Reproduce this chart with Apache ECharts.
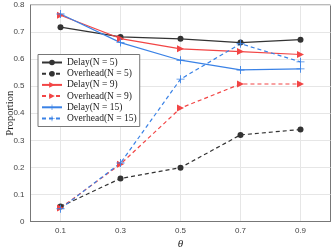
<!DOCTYPE html>
<html><head><meta charset="utf-8">
<script src="https://cdn.jsdelivr.net/npm/echarts@6/dist/echarts.min.js"></script>
<style>html,body{margin:0;padding:0;background:#fff}#c{width:332px;height:249px}</style>
</head><body><div id="c"></div>
<script>
const thetas = [0.1, 0.3, 0.5, 0.7, 0.9];
const xTickLabels = ['0.1', '0.3', '0.5', '0.7', '0.9'];
const delayN5 = [0.718, 0.682, 0.675, 0.661, 0.672];
const overheadN5 = [0.055, 0.159, 0.199, 0.320, 0.340];
const delayN9 = [0.762, 0.676, 0.638, 0.628, 0.617];
const overheadN9 = [0.050, 0.212, 0.419, 0.508, 0.508];
const delayN15 = [0.767, 0.661, 0.596, 0.560, 0.564];
const overheadN15 = [0.047, 0.216, 0.526, 0.657, 0.590];
const seriesNames = ['Delay(N = 5)', 'Overhead(N = 5)', 'Delay(N = 9)', 'Overhead(N = 9)', 'Delay(N = 15)', 'Overhead(N = 15)'];

const BLACK = '#333333', RED = '#f24545', BLUE = '#3a82e6';
const PLUS = 'path://M4,0h1v4h4v1h-4v4h-1v-4h-4v-1h4z';
const TRI = 'path://M0,0L10,5L0,10z';
const pair = v => thetas.map((t, i) => [t, v[i]]);
function mk(name, vals, color, dashed, symbol, size) {
  return {
    name, type: 'line', data: pair(vals),
    symbol, symbolSize: size,
    showAllSymbol: true,
    lineStyle: { color, width: 1.2, type: dashed ? [4, 3] : 'solid' },
    itemStyle: { color },
    emphasis: { disabled: true }
  };
}
const chart = echarts.init(document.getElementById('c'), null, { renderer: 'canvas' });
chart.setOption({
  animation: false,
  backgroundColor: '#fff',
  grid: { left: 30.5, right: 1.5, top: 5, bottom: 27.5, containLabel: false, outerBoundsMode: 'none',
    show: true, borderColor: '#777', borderWidth: 1 },
  xAxis: {
    type: 'value', min: 0, max: 1, interval: 0.1,
    name: 'θ', nameLocation: 'middle', nameGap: 17, nameMoveOverlap: false,
    nameTextStyle: { fontFamily: 'Liberation Serif', fontStyle: 'italic', fontSize: 11, color: '#222' },
    axisLine: { show: true, lineStyle: { color: '#777' } },
    axisTick: { show: false },
    axisLabel: {
      fontSize: 8, color: '#444', fontFamily: 'Liberation Sans', margin: 5,
      formatter: v => { const s = v.toFixed(1); return xTickLabels.includes(s) ? s : ''; }
    },
    splitLine: { show: true, lineStyle: { color: ['rgba(0,0,0,0)', '#e6e6e6'], width: 1 } }
  },
  yAxis: {
    type: 'value', min: 0, max: 0.8, interval: 0.1,
    name: 'Proportion', nameLocation: 'middle', nameGap: 15, nameMoveOverlap: false,
    nameTextStyle: { fontFamily: 'Liberation Serif', fontSize: 10.5, color: '#222' },
    axisLine: { show: true, lineStyle: { color: '#777' } },
    axisTick: { show: false },
    axisLabel: { fontSize: 8, color: '#444', fontFamily: 'Liberation Sans', margin: 6,
      formatter: v => v === 0 ? '0' : v.toFixed(1) },
    splitLine: { show: true, lineStyle: { color: '#e6e6e6', width: 1 } }
  },
  legend: {
    orient: 'vertical', left: 38, top: 54.5,
    data: seriesNames,
    itemWidth: 20, itemHeight: 7, itemGap: 1.2,
    padding: [3, 3, 3, 3],
    backgroundColor: '#fff', borderColor: '#777', borderWidth: 1,
    textStyle: { fontFamily: 'Liberation Serif', fontSize: 9.5, color: '#222' }
  },
  series: [
    mk(seriesNames[0], delayN5, BLACK, false, 'circle', 6),
    mk(seriesNames[1], overheadN5, BLACK, true, 'circle', 6),
    mk(seriesNames[2], delayN9, RED, false, TRI, 7),
    mk(seriesNames[3], overheadN9, RED, true, TRI, 7),
    mk(seriesNames[4], delayN15, BLUE, false, PLUS, 8),
    mk(seriesNames[5], overheadN15, BLUE, true, PLUS, 8)
  ]
});
</script></body></html>
